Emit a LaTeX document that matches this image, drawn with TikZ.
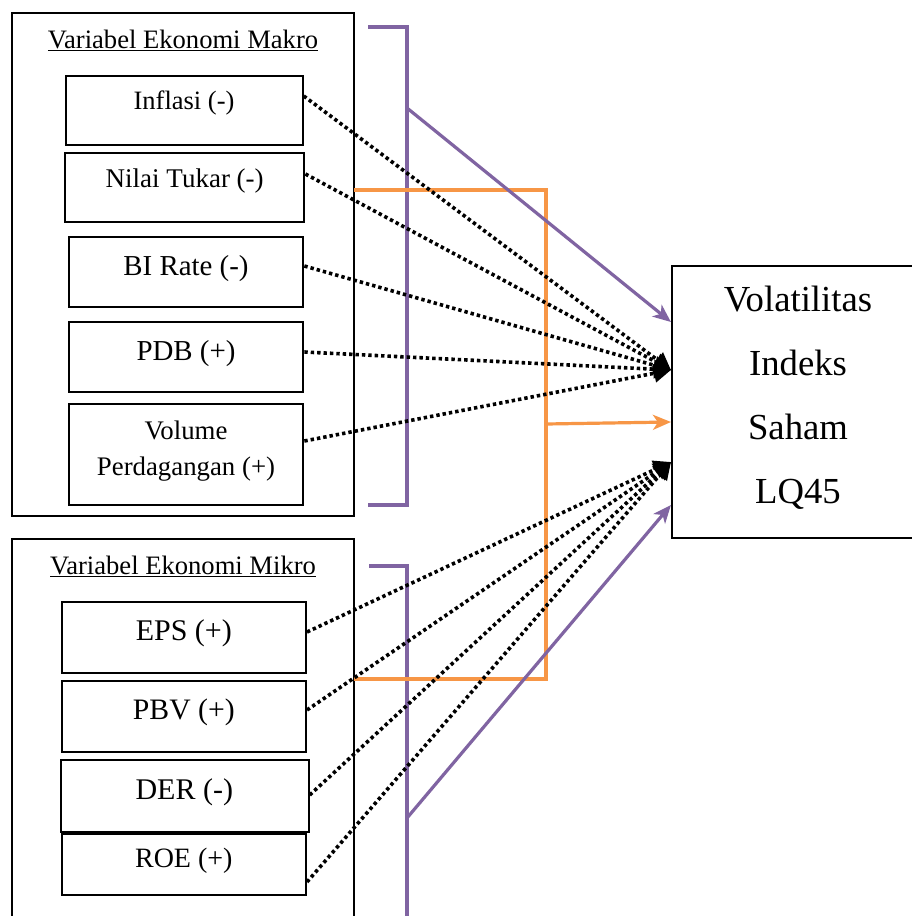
\documentclass[tikz,border=0pt]{standalone}
\usepackage{fontspec}
\setmainfont{Liberation Serif}
\usetikzlibrary{arrows.meta}
\definecolor{purp}{RGB}{128,100,162}
\definecolor{oran}{RGB}{247,150,70}
\begin{document}
\begin{tikzpicture}[x=1pt,y=-1pt,
  outer/.style={draw, line width=1.9pt},
  box/.style={draw, line width=2.1pt, inner sep=0pt},
  txt/.style={inner sep=0pt, anchor=base, align=center, font=\fontsize{#1}{36}\selectfont},
  txt/.default={26.6},
  dotarrow/.style={line width=3.6pt, dash pattern=on 3.4pt off 3pt, -{Triangle[length=17pt,width=18pt]}},
  parrow/.style={purp, line width=3.2pt, -{Stealth[length=18pt,width=15pt,inset=5pt]}},
  oarrow/.style={oran, line width=3.2pt, -{Stealth[length=18pt,width=15pt,inset=5pt]}},
  pline/.style={purp, line width=3.6pt},
  oline/.style={oran, line width=3.2pt}]
\useasboundingbox (0,0) rectangle (912,916);
\fill[white] (0,0) rectangle (912,916);

% outer group boxes
\draw[outer] (12,13) rectangle (354,516);
\draw[outer] (12,539) rectangle (354,930);
\node[txt] (tmak) at (183,48) {\underline{Variabel Ekonomi Makro}};
\node[txt] (tmik) at (183,574) {\underline{Variabel Ekonomi Mikro}};

% macro boxes
\node[box, minimum width=236.7pt, minimum height=68.7pt] (inf) at (184.3,110.3) {};
\node[txt={26.5}] (inft) at (184,109) {Inflasi (-)};
\node[box, minimum width=239.3pt, minimum height=69.3pt] (nt) at (184.7,187.3) {};
\node[txt={27}] (ntt) at (184.7,187) {Nilai Tukar (-)};
\node[box, minimum width=234.6pt, minimum height=70pt] (bi) at (186,272.3) {};
\node[txt={28.9}] (bit) at (186,275) {BI Rate (-)};
\node[box, minimum width=234.6pt, minimum height=70.3pt] (pdb) at (186,357.2) {};
\node[txt={28.9}] (pdbt) at (186,360) {PDB (+)};
\node[box, minimum width=234.6pt, minimum height=101pt] (vol) at (186,454.5) {};
\node[txt={26.8}] (volt) at (186,475) {Volume\\Perdagangan (+)};

% micro boxes
\node[box, minimum width=244.3pt, minimum height=71pt] (eps) at (183.8,637.5) {};
\node[txt={30}] (epst) at (183.8,640) {EPS (+)};
\node[box, minimum width=244.3pt, minimum height=71pt] (pbv) at (183.8,716.5) {};
\node[txt={29.7}] (pbvt) at (183.8,719) {PBV (+)};
\node[box, minimum width=247.7pt, minimum height=72pt] (der) at (184.8,796) {};
\node[txt={30}] (dert) at (184.3,799) {DER (-)};
\node[box, minimum width=244.3pt, minimum height=60.7pt] (roe) at (183.8,864.7) {};
\node[txt={28}] (roet) at (183.8,867) {ROE (+)};

% target
\node[box, minimum width=252pt, minimum height=272pt] (tgt) at (798,402) {};
\node[txt={36.7}, font=\fontsize{36.7}{64}\selectfont] (tgtt) at (798,503) {Volatilitas\\Indeks\\Saham\\LQ45};

% brackets
\draw[pline] (368,27) -- (407,27) -- (407,505) -- (368,505);
\draw[pline] (369,566) -- (407,566) -- (407,930);
\draw[oline] (354,190) -- (546,190) -- (546,679) -- (354,679);
\coordinate (pb1) at (407,108);
\coordinate (pb2) at (407,818);
\coordinate (ob) at (546,424);

% solid arrows
\draw[parrow] (pb1) -- ([yshift=80pt]tgt.west);
\draw[oarrow] (ob) -- ([yshift=-20pt]tgt.west);
\draw[parrow] (pb2) -- ([yshift=-103pt]tgt.west);

% dotted arrows
\draw[dotarrow] ([yshift=14.3pt]inf.east) -- ([yshift=32pt]tgt.west);
\draw[dotarrow] ([yshift=13.3pt]nt.east) -- ([yshift=32pt]tgt.west);
\draw[dotarrow] ([yshift=6.3pt]bi.east) -- ([yshift=32pt]tgt.west);
\draw[dotarrow] ([yshift=5.2pt]pdb.east) -- ([yshift=32pt]tgt.west);
\draw[dotarrow] ([yshift=13.5pt]vol.east) -- ([yshift=32pt]tgt.west);
\draw[dotarrow] ([yshift=5.5pt]eps.east) -- ([yshift=-60pt]tgt.west);
\draw[dotarrow] ([yshift=6.5pt]pbv.east) -- ([yshift=-60pt]tgt.west);
\draw[dotarrow] ([yshift=1pt]der.east) -- ([yshift=-60pt]tgt.west);
\draw[dotarrow] ([yshift=-17.3pt]roe.east) -- ([yshift=-60pt]tgt.west);
\end{tikzpicture}
\end{document}
